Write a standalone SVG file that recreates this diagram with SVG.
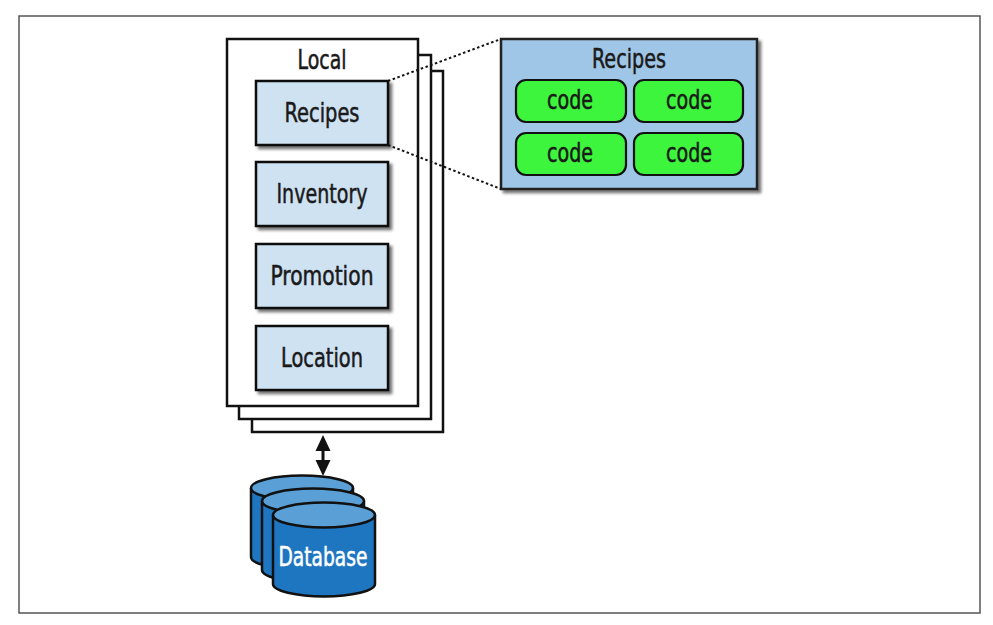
<svg xmlns="http://www.w3.org/2000/svg" width="993" height="625" viewBox="0 0 993 625">
<defs>
<filter id="sh" x="-10%" y="-10%" width="130%" height="130%">
<feDropShadow dx="3" dy="3" stdDeviation="1.8" flood-color="#000" flood-opacity="0.55"/>
</filter>
</defs>
<style>
text{font-family:"DejaVu Sans Condensed","Liberation Sans",sans-serif;font-size:26px;fill:#1a1a1a;stroke:#1a1a1a;stroke-width:0.5;text-anchor:middle}
.page{fill:#fff;stroke:#111;stroke-width:2.5}
.svc{fill:#cfe2f2;stroke:#111;stroke-width:2.5;filter:url(#sh)}
.panel{fill:#9fc6e6;stroke:#222;stroke-width:2.5;filter:url(#sh)}
.code{fill:#3cf53c;stroke:#111;stroke-width:2.2}
.dot{fill:none;stroke:#111;stroke-width:2;stroke-dasharray:2.5 2.5}
.cylb{fill:#1f76c0;stroke:#111;stroke-width:2.5}
.cylt{fill:#5aa0d6;stroke:#111;stroke-width:2.5}
.wt{fill:#fff;stroke:#fff}
.head{fill:#111}
</style>
<rect x="19" y="16" width="961" height="597" fill="#fff" stroke="#555" stroke-width="1.5"/>

<g id="local">
<rect class="page" x="252" y="71" width="191" height="361"/>
<rect class="page" x="239" y="55" width="192" height="364"/>
<rect class="page" x="227" y="39" width="191" height="367"/>
<text x="322" y="69" textLength="49" lengthAdjust="spacingAndGlyphs">Local</text>
</g>

<g id="recipes">
<rect class="svc" x="256" y="81" width="132" height="64"/>
<text x="322" y="122" textLength="75" lengthAdjust="spacingAndGlyphs">Recipes</text>
</g>
<g id="inventory">
<rect class="svc" x="256" y="162" width="132" height="64"/>
<text x="322" y="203" textLength="91" lengthAdjust="spacingAndGlyphs">Inventory</text>
</g>
<g id="promotion">
<rect class="svc" x="256" y="244" width="132" height="64"/>
<text x="322" y="285" textLength="103" lengthAdjust="spacingAndGlyphs">Promotion</text>
</g>
<g id="location">
<rect class="svc" x="256" y="326" width="132" height="64"/>
<text x="322" y="367" textLength="82" lengthAdjust="spacingAndGlyphs">Location</text>
</g>

<g id="recipes-detail">
<rect class="panel" x="501" y="39" width="256" height="150"/>
<text x="629" y="68" textLength="74" lengthAdjust="spacingAndGlyphs">Recipes</text>
<rect class="code" x="516" y="80" width="110" height="42" rx="10"/>
<rect class="code" x="634" y="80" width="109" height="42" rx="10"/>
<rect class="code" x="516" y="133" width="110" height="42" rx="10"/>
<rect class="code" x="634" y="133" width="109" height="42" rx="10"/>
<text x="570" y="109" textLength="46" lengthAdjust="spacingAndGlyphs">code</text>
<text x="689" y="109" textLength="46" lengthAdjust="spacingAndGlyphs">code</text>
<text x="570" y="162" textLength="46" lengthAdjust="spacingAndGlyphs">code</text>
<text x="689" y="162" textLength="46" lengthAdjust="spacingAndGlyphs">code</text>
</g>

<g id="database">
<path class="cylb" d="M251,488 V557 A51,12.5 0 0 0 353,557 V488"/>
<ellipse class="cylt" cx="302" cy="488" rx="51" ry="12.5"/>
<path class="cylb" d="M262,501 V570 A51,12.5 0 0 0 364,570 V501"/>
<ellipse class="cylt" cx="313" cy="501" rx="51" ry="12.5"/>
<path class="cylb" d="M273,515 V584 A51,12.5 0 0 0 375,584 V515"/>
<ellipse class="cylt" cx="324" cy="515" rx="51" ry="12.5"/>
<text class="wt" x="323" y="566" textLength="89" lengthAdjust="spacingAndGlyphs">Database</text>
</g>

<g id="connectors">
<path class="dot" d="M388,81 L501,39"/>
<path class="dot" d="M388,145 L501,189"/>
<line x1="323" y1="448" x2="323" y2="464" stroke="#111" stroke-width="3"/>
<path class="head" d="M323,435 L330.5,451 L315.5,451 Z"/>
<path class="head" d="M323,476 L330.5,460 L315.5,460 Z"/>
</g>
</svg>
